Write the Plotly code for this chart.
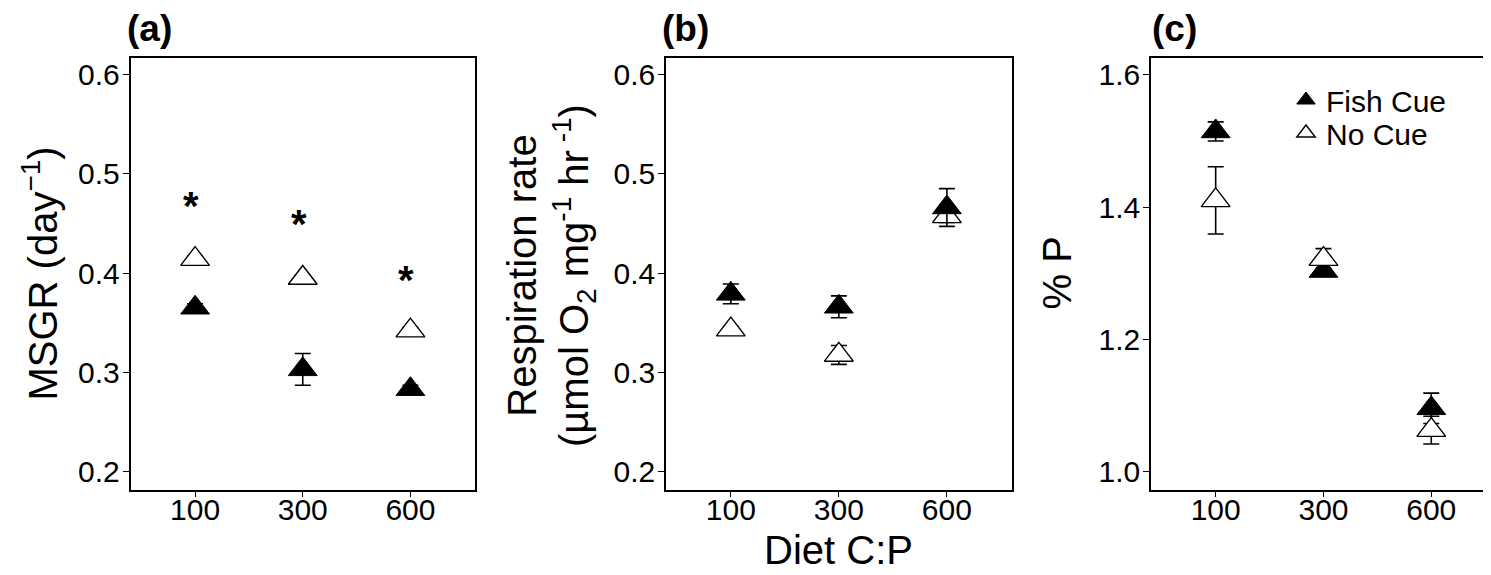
import plotly.graph_objects as go

# ---------------- data ----------------
cp_levels = ["100", "300", "600"]
x_idx = [0, 1, 2]

msgr_fish = [0.365, 0.303, 0.283]
msgr_fish_se = [0.004, 0.016, 0.004]
msgr_nocue = [0.414, 0.395, 0.342]
msgr_nocue_se = [0.003, 0.003, 0.003]
msgr_star_y = [0.473, 0.454, 0.398]

resp_fish = [0.379, 0.366, 0.466]
resp_fish_se = [0.010, 0.011, 0.019]
resp_nocue = [0.343, 0.3175, 0.457]
resp_nocue_se = [0.003, 0.0095, 0.006]

p_fish = [1.5145, 1.303, 1.095]
p_fish_se = [0.0145, 0.004, 0.023]
p_nocue = [1.410, 1.321, 1.062]
p_nocue_se = [0.051, 0.016, 0.021]

y_ticks_ab = [0.2, 0.3, 0.4, 0.5, 0.6]
y_ticks_c = [1.0, 1.2, 1.4, 1.6]

# ---------------- layout helpers ----------------
W, H = 1491, 575
OFF = 8  # page body margin of the html page
FONT = "Liberation Sans, Arial, sans-serif"
TOP, BOT = 57.5, 489.5


def fx(p):
    return (p - OFF) / W


def fy(p):
    return 1 - (p - OFF) / H


fig = go.Figure()

FILLED = dict(symbol="triangle-up", size=25, color="black", line=dict(color="black", width=1))
OPEN = dict(symbol="triangle-up", size=25, color="white", line=dict(color="black", width=1.4))


def err(arr):
    return dict(type="data", array=arr, visible=True, color="black", thickness=1.6, width=8)


# panel a
fig.add_trace(go.Scatter(x=x_idx, y=msgr_nocue, mode="markers", marker=OPEN, error_y=err(msgr_nocue_se),
                         xaxis="x", yaxis="y", name="No Cue", showlegend=False))
fig.add_trace(go.Scatter(x=x_idx, y=msgr_fish, mode="markers", marker=FILLED, error_y=err(msgr_fish_se),
                         xaxis="x", yaxis="y", name="Fish Cue", showlegend=False))
# panel b
fig.add_trace(go.Scatter(x=x_idx, y=resp_nocue, mode="markers", marker=OPEN, error_y=err(resp_nocue_se),
                         xaxis="x2", yaxis="y2", name="No Cue", showlegend=False))
fig.add_trace(go.Scatter(x=x_idx, y=resp_fish, mode="markers", marker=FILLED, error_y=err(resp_fish_se),
                         xaxis="x2", yaxis="y2", name="Fish Cue", showlegend=False))
# panel c
fig.add_trace(go.Scatter(x=x_idx, y=p_fish, mode="markers", marker=FILLED, error_y=err(p_fish_se),
                         xaxis="x3", yaxis="y3", name="Fish Cue", showlegend=True, legend="legend"))
fig.add_trace(go.Scatter(x=x_idx, y=p_nocue, mode="markers", marker=OPEN, error_y=err(p_nocue_se),
                         xaxis="x3", yaxis="y3", name="No Cue", showlegend=True, legend="legend2"))

# significance stars
annotations = []
for xi, ys in zip(x_idx, msgr_star_y):
    annotations.append(dict(x=xi, y=ys, xref="x", yref="y", text="*", showarrow=False,
                             font=dict(family=FONT, size=40, color="black", weight="bold"),
                             xanchor="center", yanchor="middle", xshift=-4, yshift=-5))

# panel titles
for txt, left in [("(a)", 125), ("(b)", 660), ("(c)", 1150)]:
    annotations.append(dict(x=fx(left), y=fy(28), xref="paper", yref="paper", text=txt, showarrow=False,
                            font=dict(family=FONT, size=37, color="black", weight="bold"),
                            xanchor="left", yanchor="middle"))

# axis titles
annotations.append(dict(x=fx(40), y=fy(273.5), xref="paper", yref="paper",
                        text="MSGR (day<sup>\u22121</sup>)", textangle=-90, showarrow=False,
                        font=dict(family=FONT, size=40, color="black"), xanchor="center", yanchor="middle"))
annotations.append(dict(x=fx(551), y=fy(276), xref="paper", yref="paper",
                        text="Respiration rate<br>(\u00b5mol O<sub>2</sub> mg<sup>-1</sup> hr<sup> -1</sup>)",
                        textangle=-90, showarrow=False,
                        font=dict(family=FONT, size=40, color="black"), xanchor="center", yanchor="middle"))
annotations.append(dict(x=fx(1056), y=fy(273.5), xref="paper", yref="paper",
                        text="% P", textangle=-90, showarrow=False,
                        font=dict(family=FONT, size=40, color="black"), xanchor="center", yanchor="middle"))
annotations.append(dict(x=fx(838.9), y=fy(550), xref="paper", yref="paper",
                        text="Diet C:P", showarrow=False,
                        font=dict(family=FONT, size=40, color="black"), xanchor="center", yanchor="middle"))

axis_common = dict(showline=True, linecolor="black", linewidth=1.6, showgrid=False, zeroline=False,
                   ticks="outside", ticklen=6, tickwidth=1.3, tickcolor="black",
                   tickfont=dict(family=FONT, size=30, color="black"))
xcommon = dict(ticklabelstandoff=-13, **axis_common)
ycommon = dict(ticklabelstandoff=-3, **axis_common)

legend_common = dict(xanchor="left", yanchor="top", bgcolor="rgba(0,0,0,0)",
                     font=dict(family=FONT, size=30, color="black"), tracegroupgap=0, itemwidth=30)

fig.update_layout(
    width=W, height=H, autosize=False,
    margin=dict(l=0, r=0, t=0, b=0),
    paper_bgcolor="white", plot_bgcolor="white",
    xaxis=dict(domain=[fx(130.5), fx(475)], range=[-0.6, 2.6], tickvals=x_idx, ticktext=cp_levels,
               mirror=True, anchor="y", **xcommon),
    yaxis=dict(domain=[fy(BOT), fy(TOP)], range=[0.182, 0.617], tickvals=y_ticks_ab,
               ticktext=[f"{v:.1f}" for v in y_ticks_ab], mirror=True, anchor="x", **ycommon),
    xaxis2=dict(domain=[fx(666), fx(1011.7)], range=[-0.6, 2.6], tickvals=x_idx, ticktext=cp_levels,
                mirror=True, anchor="y2", **xcommon),
    yaxis2=dict(domain=[fy(BOT), fy(TOP)], range=[0.182, 0.617], tickvals=y_ticks_ab,
                ticktext=[f"{v:.1f}" for v in y_ticks_ab], mirror=True, anchor="x2", **ycommon),
    xaxis3=dict(domain=[fx(1151), fx(1491)], range=[-0.6, 2.554], tickvals=x_idx, ticktext=cp_levels,
                mirror=True, anchor="y3", **xcommon),
    yaxis3=dict(domain=[fy(BOT), fy(TOP)], range=[0.972, 1.6265], tickvals=y_ticks_c,
                ticktext=[f"{v:.1f}" for v in y_ticks_c], mirror=False, anchor="x3", **ycommon),
    legend=dict(x=fx(1286), y=fy(74), **legend_common),
    legend2=dict(x=fx(1286), y=fy(107), **legend_common),
    annotations=annotations,
    showlegend=True,
)

fig.write_html("out.html")
